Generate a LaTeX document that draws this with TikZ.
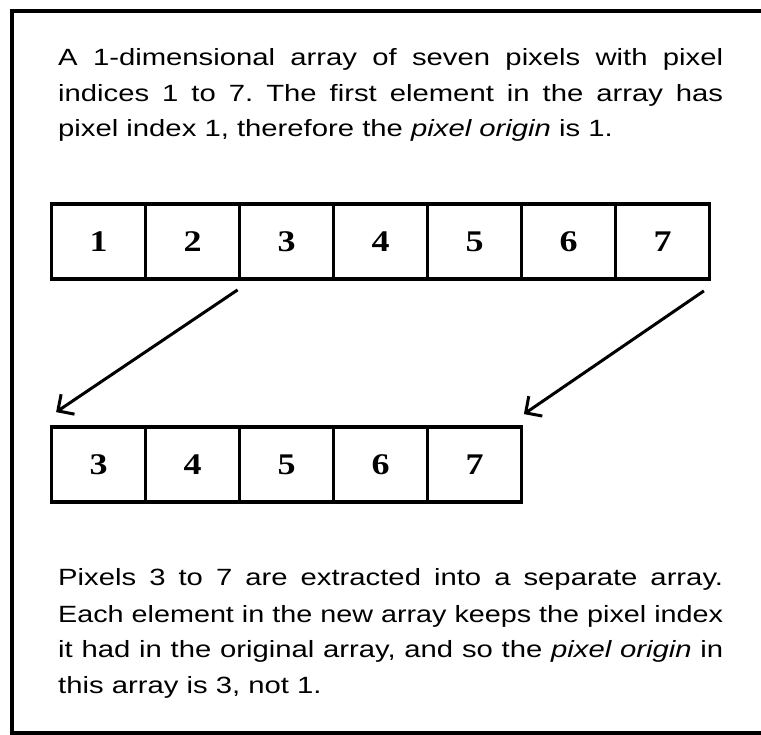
\documentclass[tikz,border=0pt]{standalone}
\usepackage{graphicx}
\usepackage{fontspec}
\setmainfont{Liberation Sans}[FakeStretch=1.245]
\newfontfamily\numfont{Liberation Serif}[FakeStretch=1.2]
\usetikzlibrary{arrows.meta}
\newsavebox\jlinebox
\newcommand\jline[1]{\sbox\jlinebox{#1}\ifdim\wd\jlinebox>665pt\relax\resizebox{665pt}{\ht\jlinebox}{\usebox\jlinebox}\else\hbox to 665pt{\spaceskip=\fontdimen2\font plus 1fil\relax #1}\fi}
\tikzset{
  txt/.style={anchor=base west, inner sep=0pt, font=\fontsize{23.5}{35.5}\selectfont\frenchspacing},
  cell/.style={draw, line width=3.8pt, minimum width=94pt, minimum height=75pt, inner sep=0pt, font=\numfont\bfseries\fontsize{30}{32}\selectfont},
  arr/.style={line width=3pt, -{Straight Barb[length=12pt,width=24pt,line width=3pt]}},
  frame/.style={line width=4pt}
}
\begin{document}
\begin{tikzpicture}[x=1pt,y=-1pt]
\useasboundingbox (0,0) rectangle (761,735);
\fill[white] (0,0) rectangle (761,735);
\draw[frame] (761,11.5) -- (12,11.5) -- (12,733) -- (761,733);
% top text
\node[txt] (p1) at (58,66) {\jline{A 1-dimensional array of seven pixels with pixel}};
\node[txt] (p2) at (58,102) {\jline{indices 1 to 7. The first element in the array has}};
\node[txt] (p3) at (58,137) {pixel index 1, therefore the \textit{pixel origin} is 1.};
% top array
\foreach \i in {1,...,7} {
  \node[cell] (t\i) at ({51.5+94*(\i-0.5)},241.5) {\i};
}
% bottom array
\foreach \i/\v in {1/3,2/4,3/5,4/6,5/7} {
  \node[cell] (b\i) at ({51.5+94*(\i-0.5)},464.5) {\v};
}
% arrows
\coordinate (s1) at ([yshift=-9pt]t3.south west);
\coordinate (e1) at ([shift={(6.5pt,13pt)}]b1.north west);
\coordinate (s2) at ([shift={(-7.5pt,-10pt)}]t7.south east);
\coordinate (e2) at ([shift={(0.5pt,11pt)}]b5.north east);
\draw[arr] (s1) -- (e1);
\draw[arr] (s2) -- (e2);
% bottom text
\node[txt] (q1) at (58,585) {\jline{Pixels 3 to 7 are extracted into a separate array.}};
\node[txt] (q2) at (58,622) {\jline{Each element in the new array keeps the pixel index}};
\node[txt] (q3) at (58,657) {\jline{it had in the original array, and so the \textit{pixel origin} in}};
\node[txt] (q4) at (58,693) {this array is 3, not 1.};
\end{tikzpicture}
\end{document}
